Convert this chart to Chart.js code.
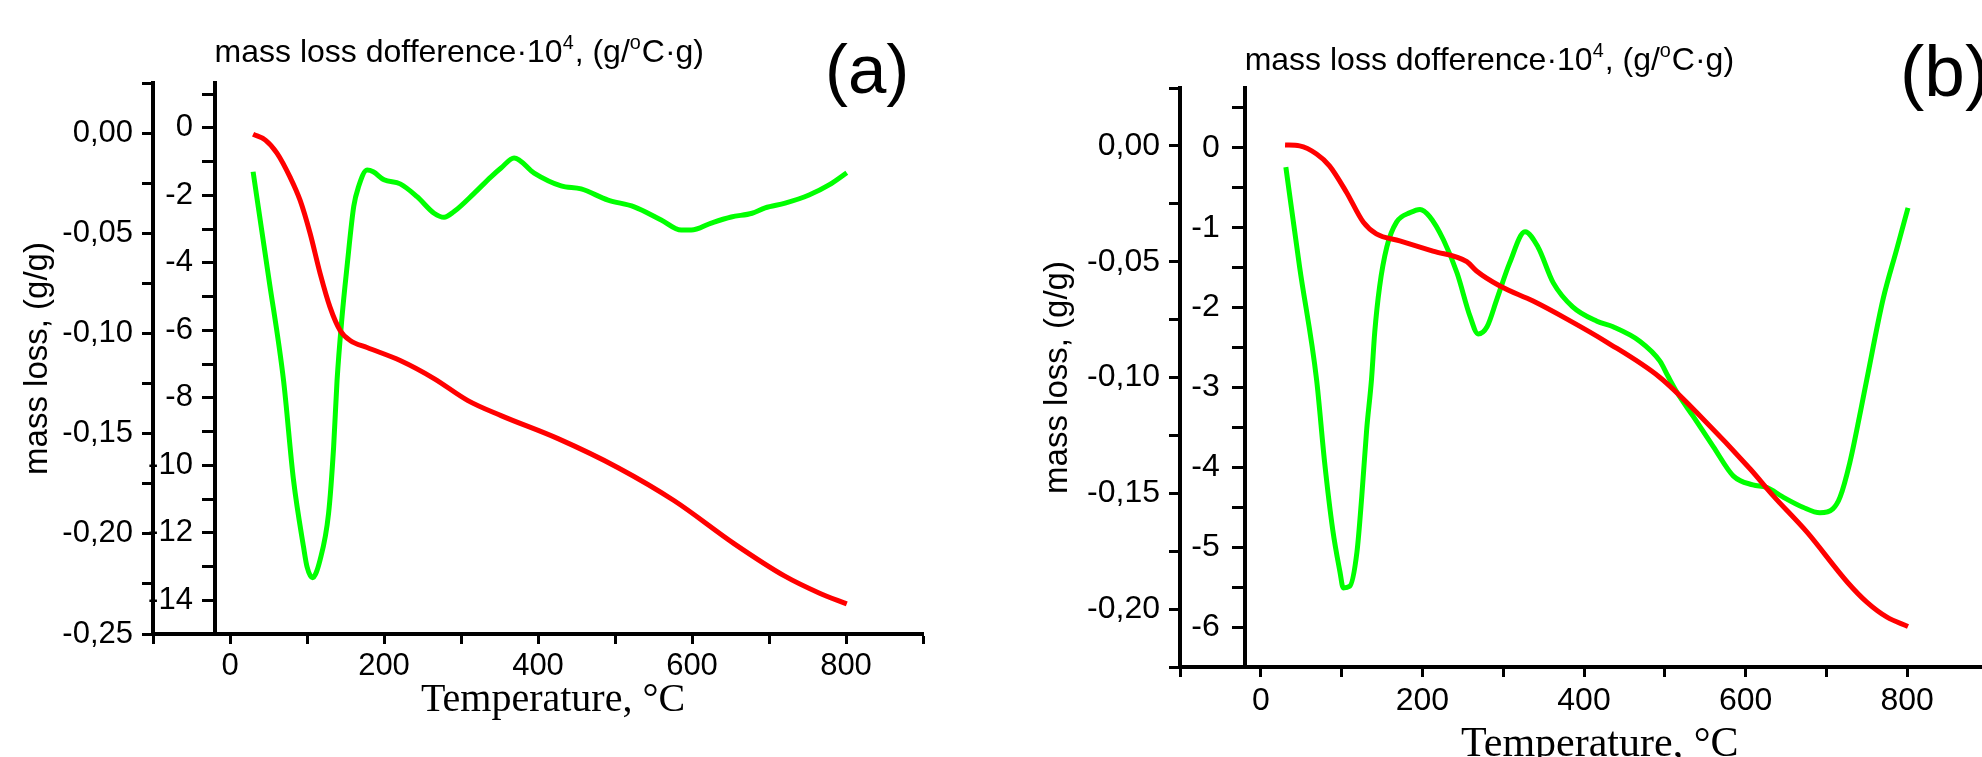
<!DOCTYPE html>
<html>
<head>
<meta charset="utf-8">
<script src="https://cdn.jsdelivr.net/npm/chart.js@4.4.1/dist/chart.umd.min.js"></script>
<style>
  html, body { margin: 0; padding: 0; background: #fff; overflow: hidden; width: 1982px; height: 757px; }
  #wrapA { position: absolute; left: 0; top: 0; }
  #wrapB { position: absolute; left: 990px; top: 0; }
</style>
</head>
<body>
<div id="wrapA"><canvas id="chartA" width="990" height="757"></canvas></div>
<div id="wrapB"><canvas id="chartB" width="1010" height="800"></canvas></div>
<script>
// ===== panel (a) data =====
const tempMassA = [30, 46, 61, 78, 91, 104, 117, 130, 143, 156, 178, 221, 265, 309, 352, 426, 504, 577, 655, 720, 765, 801];
const massLossA = [-0.0006, -0.0035, -0.010, -0.022, -0.0335, -0.050, -0.070, -0.087, -0.0985, -0.1035, -0.107, -0.1135, -0.1225, -0.1335, -0.141, -0.1525, -0.167, -0.1835, -0.205, -0.221, -0.2295, -0.235];

const tempDtgA = [30, 50, 69.5, 82.5, 95.5, 100, 107, 117, 128, 134.6, 139, 145.5, 152, 160.7, 167, 178, 186, 200, 221, 243, 265, 278, 291, 317, 339, 352, 369, 395, 430, 456, 491, 525, 560, 586, 599, 625, 651, 678, 695, 721, 752, 778, 801];
const dtgA = [-1.3, -4.4, -7.48, -10.44, -12.42, -13.0, -13.33, -12.8, -11.43, -9.45, -7.5, -5.6, -4.11, -2.33, -1.74, -1.25, -1.3, -1.54, -1.66, -2.04, -2.53, -2.65, -2.48, -1.94, -1.45, -1.19, -0.89, -1.34, -1.72, -1.81, -2.14, -2.34, -2.73, -3.03, -3.03, -2.82, -2.64, -2.53, -2.37, -2.23, -1.99, -1.69, -1.33];

// ===== panel (b) data =====
const tempMassB = [30, 48, 69, 85, 106, 127, 143, 172, 213, 255, 267, 296, 337, 379, 428, 494, 544, 606, 634, 676, 726, 750, 775, 801];
const massLossB = [0.0004, 0, -0.0035, -0.0086, -0.020, -0.033, -0.038, -0.041, -0.0454, -0.050, -0.054, -0.0605, -0.067, -0.0748, -0.0847, -0.100, -0.1167, -0.1396, -0.151, -0.1668, -0.1884, -0.197, -0.2035, -0.2075];

const tempDtgB = [31, 48, 69, 79, 89, 98, 102, 110, 119, 125, 131, 137, 141, 147, 156, 168, 185, 197, 209, 226, 243, 259, 269, 280, 292, 308, 327, 343, 362, 386, 416, 436, 469, 494, 504, 515, 535, 560, 585, 609, 626, 646, 671, 692, 708, 717, 729, 742, 750, 770, 787, 801];
const dtgB = [-0.24, -1.49, -2.9, -3.94, -4.78, -5.31, -5.51, -5.49, -5.06, -4.36, -3.53, -2.9, -2.31, -1.74, -1.24, -0.93, -0.81, -0.77, -0.86, -1.15, -1.57, -2.11, -2.33, -2.24, -1.9, -1.44, -1.05, -1.24, -1.69, -1.99, -2.17, -2.24, -2.42, -2.67, -2.86, -3.06, -3.36, -3.74, -4.11, -4.22, -4.25, -4.37, -4.5, -4.57, -4.52, -4.37, -3.94, -3.31, -2.9, -1.9, -1.27, -0.75];

// axis ranges / labels
const tempRange = [-100, 900];
const tempLabels = [0, 200, 400, 600, 800];
const innerAxisAt = -20;
const dtgTitle = ["mass loss dofference·10", "4", ", (g/", "o", "C·g)"];
const massTitle = "mass loss, (g/g)";
const tempTitle = "\u2002 Temperature, °C"; // leading space nudges it right like the original

const SANS = "Liberation Sans";
const SERIF = "Liberation Serif";
const RED = "rgb(255,0,0)";
const GREEN = "rgb(0,255,0)";

const toPoints = (xs, ys) => xs.map((x, i) => ({ x: x, y: ys[i] }));

// title above the inner axis and the big panel letter
const panelText = (letter, opt) => ({
  id: "panelText",
  afterDraw(chart) {
    const ctx = chart.ctx;
    const area = chart.chartArea;
    let x = chart.scales.x.getPixelForValue(innerAxisAt);
    const y = area.top - opt.titleLift;
    ctx.save();
    ctx.fillStyle = "#000";
    ctx.textBaseline = "alphabetic";
    ctx.textAlign = "left";
    dtgTitle.forEach((part, i) => {
      const sup = i === 1 || i === 3;
      ctx.font = (sup ? opt.titleSize * 0.62 : opt.titleSize) + "px '" + SANS + "'";
      ctx.fillText(part, x, sup ? y - opt.titleSize * 0.42 : y);
      x += ctx.measureText(part).width + (sup ? 1 : 0);
    });
    ctx.font = opt.letterSize + "px '" + SANS + "'";
    ctx.fillText(letter, area.right - opt.letterDx, area.top + opt.letterDrop);
    ctx.restore();
  },
});

const axisLine = { color: "#000", width: 4 };
const tickMarks = (len) => ({ drawOnChartArea: false, drawTicks: true, tickLength: len, tickWidth: 3, tickColor: "#000" });

const makeChart = (id, cfg) =>
  new Chart(document.getElementById(id), {
    type: "line",
    data: {
      datasets: [
        { data: cfg.mass, yAxisID: "y", borderColor: RED },
        { data: cfg.dtg, yAxisID: "y2", borderColor: GREEN },
      ].map((d) => Object.assign(d, { borderWidth: 5, pointRadius: 0, fill: false, cubicInterpolationMode: "monotone" })),
    },
    options: {
      responsive: false,
      animation: false,
      layout: { padding: { top: cfg.top, right: cfg.right, bottom: 0, left: 0 } },
      plugins: { legend: { display: false }, tooltip: { enabled: false } },
      scales: {
        x: {
          type: "linear",
          min: tempRange[0],
          max: tempRange[1],
          ticks: {
            stepSize: 100,
            autoSkip: false,
            maxRotation: 0,
            padding: cfg.xPad,
            color: "#000",
            font: { family: SANS, size: cfg.tickSize },
            callback: (v) => (tempLabels.includes(v) ? String(v) : ""),
          },
          grid: tickMarks(10),
          border: axisLine,
          title: {
            display: true,
            text: tempTitle,
            color: "#000",
            font: { family: SERIF, size: cfg.xTitleSize },
            padding: { top: 0, bottom: cfg.xTitlePad },
          },
          afterFit: (s) => { s.height = cfg.xHeight; },
        },
        y: {
          type: "linear",
          position: "left",
          min: cfg.massRange[0],
          max: cfg.massRange[1],
          ticks: {
            stepSize: 0.025,
            includeBounds: false,
            autoSkip: false,
            padding: 9,
            color: "#000",
            font: { family: SANS, size: cfg.tickSize },
            callback: (v) => (Math.round(v / 0.025) % 2 === 0 && v <= 0.0001 ? v.toFixed(2).replace(".", ",") : ""),
          },
          grid: tickMarks(11),
          border: axisLine,
          title: {
            display: true,
            text: massTitle,
            color: "#000",
            font: { family: SANS, size: cfg.yTitleSize },
            padding: { top: cfg.yTitlePad, bottom: 0 },
          },
          afterFit: (s) => { s.width = cfg.outerWidth; },
        },
        y2: {
          type: "linear",
          position: { x: innerAxisAt },
          min: cfg.dtgRange[0],
          max: cfg.dtgRange[1],
          ticks: {
            stepSize: cfg.dtgStep,
            includeBounds: false,
            autoSkip: false,
            color: "#000",
            font: { family: SANS, size: cfg.tickSize },
            // labels of an axis placed at a value sit flush on its line, so pad them with spaces
            callback: (v) => (v <= 0 && Math.abs(v / cfg.dtgLabelStep - Math.round(v / cfg.dtgLabelStep)) < 1e-6 ? String(v) + cfg.innerGap : ""),
          },
          grid: tickMarks(11),
          border: axisLine,
        },
      },
    },
    plugins: [panelText(cfg.letter, cfg.text)],
  });

makeChart("chartA", {
  mass: toPoints(tempMassA, massLossA),
  dtg: toPoints(tempDtgA, dtgA),
  massRange: [-0.25, 0.025],
  dtgRange: [-15, 1.33],
  dtgStep: 1,
  dtgLabelStep: 2,
  innerGap: "\u2002\u2009",
  top: 83,
  right: 67,
  outerWidth: 153,
  xHeight: 123,
  xPad: 4,
  tickSize: 31,
  xTitleSize: 40,
  xTitlePad: 33,
  yTitleSize: 33,
  yTitlePad: 18,
  letter: "(a)",
  text: { titleSize: 32, titleLift: 21, letterSize: 69, letterDx: 98, letterDrop: 10 },
});

makeChart("chartB", {
  mass: toPoints(tempMassB, massLossB),
  dtg: toPoints(tempDtgB, dtgB),
  massRange: [-0.225, 0.025],
  dtgRange: [-6.5, 0.75],
  dtgStep: 0.5,
  dtgLabelStep: 1,
  innerGap: "\u2002 ",
  top: 88,
  right: 12,
  outerWidth: 190,
  xHeight: 133,
  xPad: 5,
  tickSize: 32,
  xTitleSize: 42,
  xTitlePad: 30,
  yTitleSize: 33,
  yTitlePad: 48,
  letter: "(b)",
  text: { titleSize: 32, titleLift: 18, letterSize: 73, letterDx: 88, letterDrop: 8 },
});
</script>
</body>
</html>
